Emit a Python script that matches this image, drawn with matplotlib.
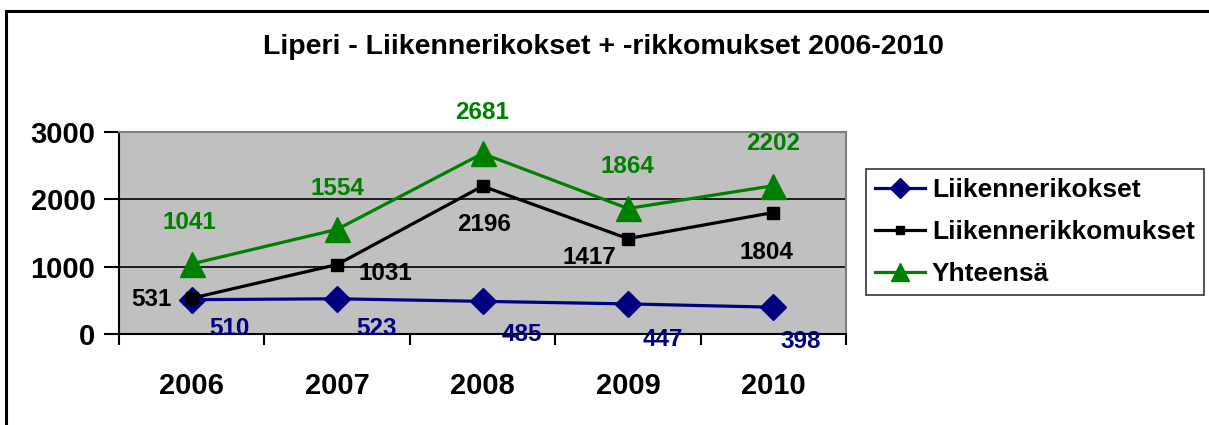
import matplotlib.pyplot as plt
from matplotlib.patches import Rectangle

years = ['2006', '2007', '2008', '2009', '2010']
rikokset = [510, 523, 485, 447, 398]
rikkomukset = [531, 1031, 2196, 1417, 1804]
yhteensa = [1041, 1554, 2681, 1864, 2202]

plt.rcParams['font.family'] = ['Liberation Sans', 'DejaVu Sans']
plt.rcParams['font.weight'] = 'bold'

fig = plt.figure(figsize=(12.09, 4.25), dpi=100)
ax = fig.add_axes([119/1209, 1 - 334/425, (846 - 119)/1209, (334 - 132)/425])

# outer frame of the chart
fig.patches.append(Rectangle((6/1209, -0.2), 1.2, 1 - 11/425 + 0.2, transform=fig.transFigure,
                             fill=False, edgecolor='black', linewidth=2.2))

x = list(range(len(years)))
navy = '#000080'
green = '#008000'

ax.set_facecolor('#c0c0c0')
ax.plot(x, rikokset, color=navy, lw=2.3, marker='D', ms=13, label='Liikennerikokset', zorder=3)
ax.plot(x, rikkomukset, color='black', lw=2.3, marker='s', ms=8, label='Liikennerikkomukset', zorder=3)
ax.plot(x, yhteensa, color=green, lw=2.3, marker='^', ms=18, label='Yhteensä', zorder=3)

# label offsets in pixels (Excel default placement)
off_rik = [(38, -29), (39, -30), (39, -33), (35, -36), (27, -34)]
off_rikk = [(-40, -1), (48, -9), (2, -38), (-39, -19), (-7, -40)]
off_yht = [(-2, 41), (0, 41), (0, 41), (0, 42), (0, 42)]
for i in x:
    ax.annotate(str(rikokset[i]), (i, rikokset[i]), xytext=off_rik[i], textcoords='offset pixels',
                ha='center', va='center', color=navy, fontsize=17.5, fontweight='bold')
    ax.annotate(str(rikkomukset[i]), (i, rikkomukset[i]), xytext=off_rikk[i], textcoords='offset pixels',
                ha='center', va='center', color='black', fontsize=17.5, fontweight='bold')
    ax.annotate(str(yhteensa[i]), (i, yhteensa[i]), xytext=off_yht[i], textcoords='offset pixels',
                ha='center', va='center', color=green, fontsize=17.5, fontweight='bold')

ax.set_xlim(-0.5, 4.5)
ax.set_ylim(0, 3000)
ax.set_yticks([0, 1000, 2000, 3000])
ax.yaxis.grid(True, color='black', lw=1.2)
ax.set_axisbelow(True)
ax.set_xticks(x)
ax.set_xticklabels(years)
ax.set_xticks([i - 0.5 for i in range(6)], minor=True)
ax.tick_params(axis='x', which='major', length=0, pad=27, labelsize=21)
ax.tick_params(axis='x', which='minor', length=8, width=1.5, direction='out')
ax.tick_params(axis='y', length=11, width=1.5, pad=6, labelsize=21)

ax.spines['left'].set_linewidth(1.5)
ax.spines['bottom'].set_linewidth(1.5)
ax.spines['top'].set_color('#808080')
ax.spines['right'].set_color('#808080')
ax.spines['top'].set_linewidth(1.5)
ax.spines['right'].set_linewidth(1.5)

fig.text(603/1209, 1 - 47/425, 'Liperi - Liikennerikokset + -rikkomukset 2006-2010',
         ha='center', va='center', fontsize=20.5, fontweight='bold')

leg = fig.legend(loc='upper left', bbox_to_anchor=(866/1209, 1 - 169/425), fontsize=19,
                 frameon=True, fancybox=False, edgecolor='black', borderpad=0.35,
                 handlelength=1.9, handletextpad=0.25, labelspacing=0.68, markerscale=0.75,
                 borderaxespad=0)
leg.get_frame().set_linewidth(1.2)

fig.savefig('out.png', dpi=100)
